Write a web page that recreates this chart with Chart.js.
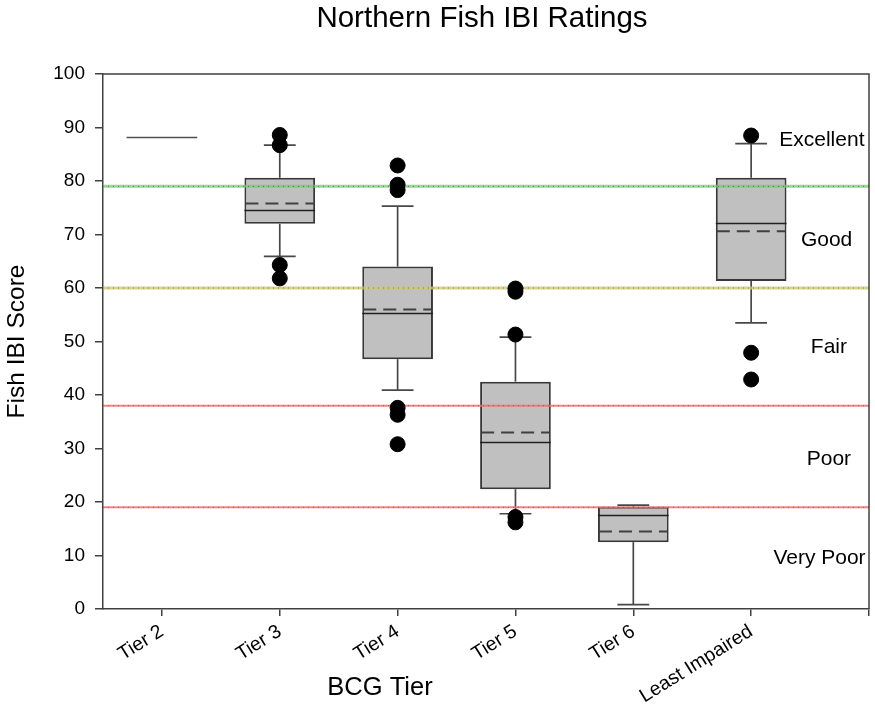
<!DOCTYPE html>
<html>
<head>
<meta charset="utf-8">
<title>Northern Fish IBI Ratings</title>
<script src="https://cdn.jsdelivr.net/npm/chart.js@4.4.1/dist/chart.umd.min.js"></script>
<style>
  html, body { margin: 0; padding: 0; background: #ffffff; }
  #wrap { width: 875px; height: 707px; }
</style>
</head>
<body>
<div id="wrap"><canvas id="chart" width="875" height="707"></canvas></div>
<script>
// ---- data ----
const categories = ['Tier 2', 'Tier 3', 'Tier 4', 'Tier 5', 'Tier 6', 'Least Impaired'];
const quartile1  = [null, 72.0, 46.7, 22.4, 12.5, 61.3];
const quartile3  = [null, 80.6, 64.0, 42.5, 19.1, 80.6];
const medians    = [88.2, 74.5, 55.3, 31.2, 17.6, 72.2];
const means      = [null, 75.8, 56.0, 33.0, 14.5, 70.6];
const whiskerLow  = [null, 65.9, 40.9, 17.8, 0.8, 53.5];
const whiskerHigh = [null, 86.7, 75.3, 50.8, 19.4, 87.0];
const outliersTier2 = [];
const outliersTier3 = [88.6, 86.7, 64.3, 61.8];
const outliersTier4 = [82.9, 79.3, 78.3, 37.6, 36.3, 30.8];
const outliersTier5 = [59.9, 59.3, 51.3, 17.2, 16.2];
const outliersTier6 = [];
const outliersLeastImpaired = [88.5, 47.9, 42.9];
const ratingThresholds = [79, 60, 38, 19];
const ratingNames = ['Excellent', 'Good', 'Fair', 'Poor', 'Very Poor'];
const ratingLabelScores = [87.6, 69.0, 49.0, 28.0, 9.5];
const yTickValues = [0, 10, 20, 30, 40, 50, 60, 70, 80, 90, 100];

const FONT = "'Liberation Sans', Arial, Helvetica, sans-serif";
const outlierGroups = [outliersTier2, outliersTier3, outliersTier4, outliersTier5, outliersTier6, outliersLeastImpaired];

// category i sits at x = i + 1 on a linear axis
const boxData = categories.map((c, i) =>
  quartile1[i] == null ? { x: i + 1, y: null } : { x: i + 1, y: [quartile1[i], quartile3[i]] });
const outlierData = [];
outlierGroups.forEach((g, i) => g.forEach(v => outlierData.push({ x: i + 1, y: v })));

// threshold line styles: soft coloured band with a darker dotted line on top
const thresholdStyles = [
  { base: 'rgba(120,200,120,0.75)', dots: 'rgba(40,110,40,0.8)', width: 3 },
  { base: 'rgba(205,200,110,0.8)',  dots: 'rgba(110,105,40,0.8)', width: 3 },
  { base: 'rgba(240,110,110,0.85)', dots: 'rgba(120,70,70,0.7)',  width: 2 },
  { base: 'rgba(240,110,110,0.85)', dots: 'rgba(120,70,70,0.7)',  width: 2 }
];
const thresholdDatasets = [];
ratingThresholds.forEach((t, i) => {
  const pts = [{ x: 0.5, y: t }, { x: 7, y: t }];
  thresholdDatasets.push({
    type: 'line', data: pts, borderColor: thresholdStyles[i].dots,
    borderWidth: 1, borderDash: [1, 4], pointRadius: 0, fill: false
  });
  thresholdDatasets.push({
    type: 'line', data: pts, borderColor: thresholdStyles[i].base,
    borderWidth: thresholdStyles[i].width, pointRadius: 0, fill: false
  });
});

// whiskers, caps, medians and means drawn straight after the boxes
const boxDetails = {
  id: 'boxDetails',
  afterDatasetDraw(chart, args) {
    if (args.meta.type !== 'bar') return;
    const ctx = chart.ctx, xs = chart.scales.x, ys = chart.scales.y;
    const unit = xs.getPixelForValue(2) - xs.getPixelForValue(1);
    const halfBox = unit * 0.3, halfCap = unit * 0.135;
    ctx.save();
    categories.forEach((c, i) => {
      const cx = xs.getPixelForValue(i + 1);
      if (whiskerHigh[i] != null) {
        ctx.strokeStyle = '#484848';
        ctx.lineWidth = 1.7;
        ctx.setLineDash([]);
        const segs = [[quartile3[i], whiskerHigh[i]], [quartile1[i], whiskerLow[i]]];
        segs.forEach(([a, b]) => {
          const ya = ys.getPixelForValue(a), yb = ys.getPixelForValue(b);
          ctx.beginPath(); ctx.moveTo(cx, ya); ctx.lineTo(cx, yb); ctx.stroke();
          ctx.beginPath(); ctx.moveTo(cx - halfCap, yb); ctx.lineTo(cx + halfCap, yb); ctx.stroke();
        });
      }
      if (medians[i] != null) {
        const y = Math.round(ys.getPixelForValue(medians[i])) + 0.5;
        ctx.strokeStyle = quartile1[i] == null ? '#505050' : '#202020';
        ctx.lineWidth = 1.5;
        ctx.setLineDash([]);
        ctx.beginPath(); ctx.moveTo(cx - halfBox, y); ctx.lineTo(cx + halfBox, y); ctx.stroke();
      }
      if (means[i] != null) {
        const y = ys.getPixelForValue(means[i]);
        ctx.strokeStyle = '#404040';
        ctx.lineWidth = 2;
        ctx.setLineDash([13, 7]);
        ctx.beginPath(); ctx.moveTo(cx - halfBox + 1, y); ctx.lineTo(cx + halfBox - 1, y); ctx.stroke();
      }
    });
    ctx.restore();
  }
};

// frame, titles and rating names
const decorations = {
  id: 'decorations',
  afterDraw(chart) {
    const ctx = chart.ctx, a = chart.chartArea, xs = chart.scales.x, ys = chart.scales.y;
    ctx.save();
    ctx.strokeStyle = '#404040';
    ctx.lineWidth = 1.5;
    ctx.beginPath();
    ctx.moveTo(a.left, a.top); ctx.lineTo(a.right, a.top); ctx.lineTo(a.right, a.bottom);
    ctx.stroke();

    ctx.fillStyle = '#000000';
    ctx.textAlign = 'center';
    ctx.textBaseline = 'middle';
    ctx.font = '29.5px ' + FONT;
    ctx.fillText('Northern Fish IBI Ratings', 482, 19);

    ctx.font = '25.5px ' + FONT;
    ctx.fillText('BCG Tier', 380, 688);
    ctx.font = '24.5px ' + FONT;
    ctx.save();
    ctx.translate(17, (a.top + a.bottom) / 2);
    ctx.rotate(-Math.PI / 2);
    ctx.fillText('Fish IBI Score', 0, 0);
    ctx.restore();

    const labelX = [6.60, 6.64, 6.66, 6.66, 6.58];
    ctx.font = '21px ' + FONT;
    ratingNames.forEach((n, i) => {
      ctx.fillText(n, xs.getPixelForValue(labelX[i]), ys.getPixelForValue(ratingLabelScores[i]));
    });
    ctx.restore();
  }
};

new Chart(document.getElementById('chart'), {
  type: 'bar',
  data: {
    datasets: [
      {
        type: 'scatter', data: outlierData, backgroundColor: '#000000', borderColor: '#000000',
        pointRadius: 7.5, pointHoverRadius: 7.5
      },
      ...thresholdDatasets,
      {
        type: 'bar', data: boxData, backgroundColor: '#c0c0c0', borderColor: '#383838',
        borderWidth: 2, borderSkipped: false, categoryPercentage: 0.6, barPercentage: 1.0
      }
    ]
  },
  options: {
    responsive: false,
    animation: false,
    events: [],
    layout: { autoPadding: false, padding: { top: 74, right: 6, left: 0, bottom: 0 } },
    plugins: { legend: { display: false }, tooltip: { enabled: false }, title: { display: false } },
    scales: {
      x: {
        type: 'linear', min: 0.5, max: 7, offset: false,
        afterBuildTicks(scale) { scale.ticks = [1, 2, 3, 4, 5, 6, 7].map(v => ({ value: v })); },
        afterFit(scale) { scale.height = 98; scale.paddingLeft = 0; scale.paddingRight = 0; },
        ticks: {
          autoSkip: false, minRotation: 32, maxRotation: 32, padding: 4,
          color: '#000000', font: { family: FONT, size: 19.5 },
          callback: v => categories[v - 1] || ''
        },
        grid: { offset: false, drawOnChartArea: false, drawTicks: true, tickLength: 7, color: '#404040', lineWidth: 1.5 },
        border: { display: true, color: '#404040', width: 1.5 }
      },
      y: {
        type: 'linear', min: 0, max: 100,
        afterBuildTicks(scale) { scale.ticks = yTickValues.map(v => ({ value: v })); },
        afterFit(scale) { scale.width = 103; },
        ticks: { padding: 10, color: '#000000', font: { family: FONT, size: 19 } },
        grid: { drawOnChartArea: false, drawTicks: true, tickLength: 8, color: '#404040', lineWidth: 1.5 },
        border: { display: true, color: '#404040', width: 1.5 }
      }
    }
  },
  plugins: [boxDetails, decorations]
});
</script>
</body>
</html>
